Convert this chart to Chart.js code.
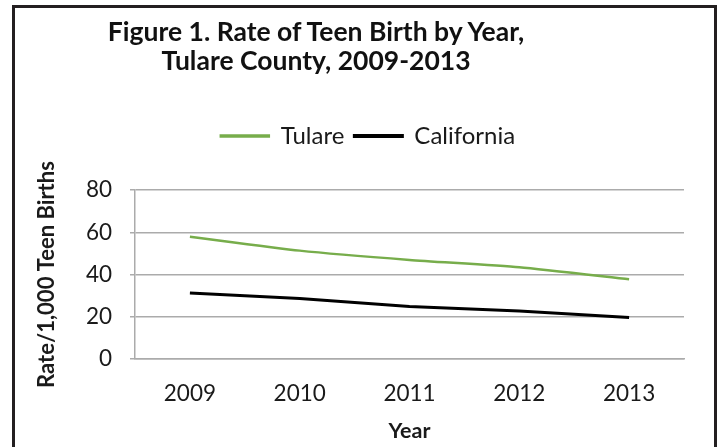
<!DOCTYPE html>
<html lang="en">
<head>
    <meta charset="UTF-8">
    <title>Figure 1. Rate of Teen Birth by Year</title>
    <script src="https://cdn.jsdelivr.net/npm/chart.js"></script>
    <style>
        html, body {
            margin: 0;
            padding: 0;
            background: #fff;
            overflow: hidden;
        }
        .wrap {
            position: relative;
            width: 720px;
            height: 447px;
        }
        .frame {
            position: absolute;
            left: 12px;
            top: 5px;
            width: 705px;
            height: 460px;
            box-sizing: border-box;
            border: 3px solid #231f20;
            border-bottom: none;
            pointer-events: none;
        }
        .title {
            position: absolute;
            left: 0;
            top: 17px;
            width: 632px;
            text-align: center;
            font-family: Lato, sans-serif;
            font-weight: bold;
            font-size: 26.5px;
            line-height: 29px;
            color: #111;
        }
    </style>
</head>
<body>
    <div class="wrap">
        <canvas id="teenChart" width="720" height="447"></canvas>
        <div class="title">Figure 1. Rate of Teen Birth by Year,<br>Tulare County, 2009-2013</div>
        <div class="frame"></div>
    </div>

    <script>
        const years = ['2009', '2010', '2011', '2012', '2013'];
        const tulareRates = [57.9, 51.3, 46.9, 43.4, 37.7];
        const californiaRates = [31.2, 28.6, 24.9, 22.7, 19.7];
        const yTicks = [0, 20, 40, 60, 80];

        const gridColor = '#ababab';
        const textColor = '#1a1a1a';

        // nudge the legend to sit where the original has it
        const legendShift = {
            id: 'legendShift',
            afterLayout(chart) {
                const lg = chart.legend;
                lg.left += 19;
                lg.right += 19;
                lg.top -= 32;
                lg.bottom -= 32;
            }
        };

        const ctx = document.getElementById('teenChart').getContext('2d');
        new Chart(ctx, {
            type: 'line',
            data: {
                labels: years,
                datasets: [
                    {
                        label: 'Tulare',
                        data: tulareRates,
                        borderColor: '#77ad4b',
                        backgroundColor: '#77ad4b',
                        borderWidth: 2.5,
                        pointRadius: 0,
                        tension: 0.2
                    },
                    {
                        label: 'California',
                        data: californiaRates,
                        borderColor: '#000000',
                        backgroundColor: '#000000',
                        borderWidth: 3,
                        pointRadius: 0,
                        tension: 0.2
                    }
                ]
            },
            options: {
                responsive: false,
                animation: false,
                layout: {
                    padding: { left: 14, right: 36, top: 146, bottom: 0 }
                },
                plugins: {
                    legend: {
                        position: 'top',
                        labels: {
                            boxWidth: 48,
                            boxHeight: 1,
                            padding: 10,
                            color: textColor,
                            font: { family: 'Lato', size: 24 }
                        }
                    },
                    tooltip: { enabled: false }
                },
                scales: {
                    x: {
                        offset: true,
                        grid: { display: false, drawTicks: false },
                        border: { display: true, color: gridColor, width: 1.5 },
                        ticks: {
                            padding: 21,
                            color: textColor,
                            font: { family: 'Lato', size: 22.5 }
                        },
                        title: {
                            display: true,
                            text: 'Year',
                            color: textColor,
                            padding: { top: 0, bottom: 3 },
                            font: { family: 'Lato', size: 21.5, weight: 'bold' }
                        },
                        afterFit(scale) { scale.height = 88; }
                    },
                    y: {
                        min: 0,
                        max: 80,
                        afterBuildTicks(scale) {
                            scale.ticks = yTicks.map(v => ({ value: v }));
                        },
                        grid: { color: gridColor, lineWidth: 1.5, tickLength: 5 },
                        border: { display: true, color: gridColor, width: 1.5 },
                        ticks: {
                            padding: 18,
                            color: textColor,
                            font: { family: 'Lato', size: 22.5 }
                        },
                        title: {
                            display: true,
                            text: 'Rate/1,000 Teen Births',
                            color: textColor,
                            padding: { top: 20, bottom: 0 },
                            font: { family: 'Lato', size: 22, weight: 'bold' }
                        },
                        afterFit(scale) { scale.width = 121; }
                    }
                }
            },
            plugins: [legendShift]
        });
    </script>
</body>
</html>
